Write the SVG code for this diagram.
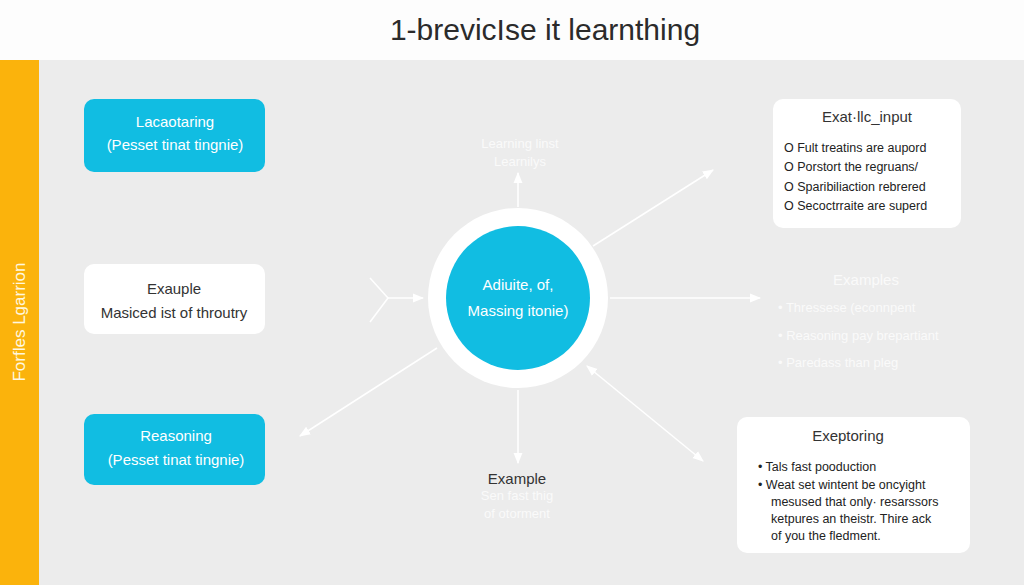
<svg xmlns="http://www.w3.org/2000/svg" width="1024" height="585" viewBox="0 0 1024 585">
<style>
text{font-family:"Liberation Sans",Arial,sans-serif}
.cy{fill:#11bde2}
.wb{fill:#fff}
.ln{stroke:#fff;stroke-width:1.6;fill:none}
.wt{fill:#fff;font-size:15px;text-anchor:middle}
.dk{fill:#333;font-size:15px;text-anchor:middle}
.sm{fill:#222;font-size:12.5px}
.ft{fill:#fafafa;font-size:13px}
</style>
<defs>
<marker id="ah" viewBox="0 0 10 10" refX="9" refY="5" markerWidth="7" markerHeight="7" orient="auto-start-reverse"><path d="M0,1 L10,5 L0,9 z" fill="#fff"/></marker>
</defs>
<rect width="1024" height="585" fill="#ececec"/>
<rect width="1024" height="60" fill="#fdfdfd"/>
<text x="545" y="40" font-size="30" fill="#2b2b2b" text-anchor="middle">1-brevicIse it learnthing</text>
<g id="sidebar"><rect x="0" y="60" width="39" height="525" fill="#fbb30c"/>
<text transform="translate(25,322) rotate(-90)" fill="#fff8e0" font-size="17" text-anchor="middle">Forfles Lgarrion</text></g>
<g id="connectors">
<line class="ln" x1="518" y1="207" x2="518" y2="173" marker-end="url(#ah)"/>
<line class="ln" x1="593" y1="246" x2="713" y2="170" marker-end="url(#ah)"/>
<line class="ln" x1="610" y1="298" x2="760" y2="298" marker-end="url(#ah)"/>
<line class="ln" x1="587" y1="366" x2="703" y2="461" marker-start="url(#ah)" marker-end="url(#ah)"/>
<line class="ln" x1="518" y1="390" x2="518" y2="463" marker-end="url(#ah)"/>
<line class="ln" x1="437" y1="348" x2="300" y2="436" marker-end="url(#ah)"/>
<line class="ln" x1="388" y1="298" x2="423" y2="298" marker-end="url(#ah)"/>
<path class="ln" d="M370,278 L388,298 L370,322"/>
</g>
<g id="center"><circle cx="518" cy="298" r="90" class="wb"/><circle cx="518" cy="298" r="72" class="cy"/>
<text class="wt" x="518" y="290">Adiuite, of,</text><text class="wt" x="518" y="316">Massing itonie)</text></g>
<g id="n1"><rect x="84" y="99" width="181" height="73" rx="10" class="cy"/>
<text class="wt" x="175" y="127">Lacaotaring</text><text class="wt" x="175" y="150" font-size="14">(Pesset tinat tingnie)</text></g>
<g id="n2"><rect x="84" y="264" width="181" height="70" rx="10" class="wb"/>
<text class="dk" x="174" y="294">Exauple</text><text class="dk" x="174" y="318" font-size="13.5">Masiced ist of throutry</text></g>
<g id="n3"><rect x="84" y="414" width="181" height="71" rx="10" class="cy"/>
<text class="wt" x="176" y="441">Reasoning</text><text class="wt" x="176" y="465" font-size="14">(Pesset tinat tingnie)</text></g>
<g id="top"><text x="520" y="148" class="ft" text-anchor="middle">Learning linst</text><text x="520" y="166" class="ft" text-anchor="middle">Learnilys</text></g>
<g id="bottom"><text class="dk" x="517" y="484">Example</text>
<text x="517" y="500" class="ft" text-anchor="middle">Sen fast thig</text><text x="517" y="518" class="ft" text-anchor="middle">of otorment</text></g>
<g id="n4"><rect x="773" y="99" width="188" height="129" rx="10" class="wb"/>
<text class="dk" x="867" y="122">Exat·llc_input</text>
<g class="sm"><text x="784" y="152">O Fult treatins are aupord</text><text x="784" y="171">O Porstort the regruans/</text><text x="784" y="191">O Sparibiliaction rebrered</text><text x="784" y="210">O Secoctrraite are superd</text></g></g>
<g id="n5"><text x="866" y="285" fill="#fafafa" font-size="15" text-anchor="middle">Examples</text>
<g class="ft"><text x="778" y="312">•  Thressese (econnpent</text><text x="778" y="340">•  Reasoning pay brepartiant</text><text x="778" y="367">•  Paredass than pleg</text></g></g>
<g id="n6"><rect x="737" y="417" width="233" height="136" rx="10" class="wb"/>
<text class="dk" x="848" y="441">Exeptoring</text>
<g class="sm"><text x="758" y="471">•  Tals fast pooduction</text><text x="758" y="489">•  Weat set wintent be oncyight</text><text x="771" y="506">mesused that only· resarssors</text><text x="771" y="523">ketpures an theistr. Thire ack</text><text x="771" y="540">of you the fledment.</text></g></g>
</svg>
